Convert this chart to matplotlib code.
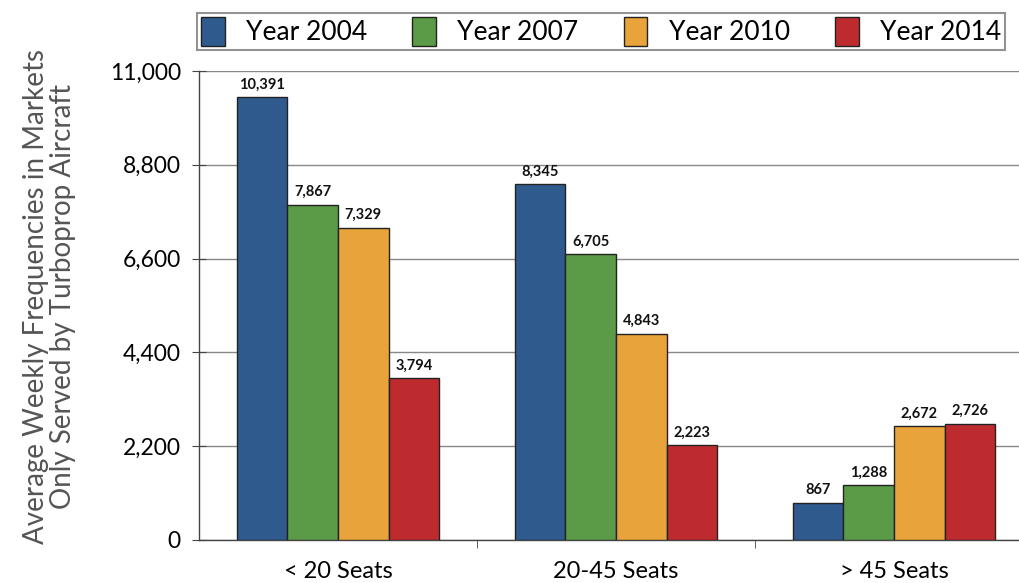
import matplotlib
matplotlib.use("Agg")
import matplotlib.pyplot as plt
import numpy as np

categories = ["< 20 Seats", "20-45 Seats", "> 45 Seats"]
series_names = ["Year 2004", "Year 2007", "Year 2010", "Year 2014"]
year_2004 = [10391, 8345, 867]
year_2007 = [7867, 6705, 1288]
year_2010 = [7329, 4843, 2672]
year_2014 = [3794, 2223, 2726]
y_ticks = [0, 2200, 4400, 6600, 8800, 11000]

colors = ["#2E5A8E", "#5B9A47", "#E8A33A", "#BE2B2F"]
plt.rcParams['font.family'] = ['Lato', 'DejaVu Sans']

fig = plt.figure(figsize=(10.19, 5.83), dpi=100)
ax = fig.add_axes([199/1019, 1-540/583, (1033-199)/1019, (540-71)/583])

x = np.arange(len(categories))
w = 0.182
all_series = [year_2004, year_2007, year_2010, year_2014]
handles = []
for i, (vals, name, c) in enumerate(zip(all_series, series_names, colors)):
    bars = ax.bar(x + (i - 1.5) * w, vals, w, color=c, edgecolor="#222222",
                  linewidth=1.0, label=name, zorder=3)
    handles.append(bars)
    for xi, v in zip(x, vals):
        ax.text(xi + (i - 1.5) * w, v + 130, f"{v:,}", ha="center", va="bottom",
                fontsize=10.5, fontweight="bold", color="#111111", zorder=4)

ax.set_xlim(-0.5, 2.5)
ax.set_ylim(0, 11000)
ax.set_yticks(y_ticks)
ax.set_yticklabels([f"{v:,}" for v in y_ticks], fontsize=16.5)
ax.yaxis.grid(True, color="#888888", linewidth=1.0, zorder=0)
ax.set_axisbelow(True)
ax.set_xticks(x)
ax.set_xticklabels(categories, fontsize=17)
ax.tick_params(axis='x', which='major', length=0, pad=15)
ax.set_xticks([0.5, 1.5], minor=True)
ax.tick_params(axis='x', which='minor', length=6, direction='out', color="#444444")
ax.tick_params(axis='y', direction='inout', length=10, color="#444444", pad=8)

for s in ["top", "right"]:
    ax.spines[s].set_visible(False)
for s in ["left", "bottom"]:
    ax.spines[s].set_color("#444444")
    ax.spines[s].set_linewidth(1.0)

ax.set_ylabel("Average Weekly Frequencies in Markets\nOnly Served by Turboprop Aircraft",
              fontsize=20, color="#555555", linespacing=1.05)
ax.yaxis.set_label_coords(-0.148, 0.52)

leg = fig.legend(handles=handles, labels=series_names, loc="lower left",
                 bbox_to_anchor=(197/1019, 1-50/583, (1005-197)/1019, 35/583),
                 mode="expand", ncol=4, fontsize=19, frameon=True, fancybox=False,
                 handlelength=0.9, handleheight=1.3, borderaxespad=0,
                 borderpad=0.15, columnspacing=1.0, handletextpad=0.8)
leg.get_frame().set_edgecolor("#777777")
leg.get_frame().set_linewidth(1.5)

fig.savefig("out.png", dpi=100)
